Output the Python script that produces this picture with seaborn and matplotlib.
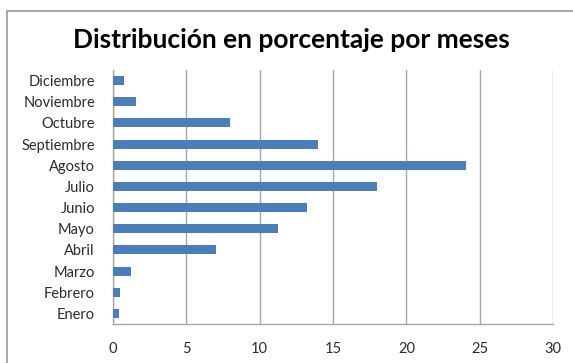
import matplotlib
matplotlib.use("Agg")
import matplotlib.pyplot as plt
from matplotlib.lines import Line2D
from matplotlib.ticker import FixedLocator
import seaborn as sns
import pandas as pd

meses = ["Enero", "Febrero", "Marzo", "Abril", "Mayo", "Junio",
         "Julio", "Agosto", "Septiembre", "Octubre", "Noviembre", "Diciembre"]
porcentaje = [0.4, 0.5, 1.25, 7.0, 11.26, 13.2,
              18.0, 24.07, 14.0, 8.0, 1.6, 0.73]
xticks = [0, 5, 10, 15, 20, 25, 30]
titulo = "Distribución en porcentaje por meses"

sns.set_style("white")
plt.rcParams["font.family"] = ["Lato", "DejaVu Sans"]

df = pd.DataFrame({"mes": meses, "pct": porcentaje})

fig = plt.figure(figsize=(5.73, 3.63), dpi=100)
ax = fig.add_axes([113 / 573, 1 - 324 / 363, 440 / 573, 254 / 363])

orden = meses[::-1]
sns.barplot(data=df, x="pct", y="mes", order=orden, orient="h",
            color="#4a7ebb", saturation=1, width=0.43, linewidth=0,
            ax=ax, zorder=3)

grid_c = "#a6a6a6"
ax.set_xlim(0, 30)
ax.set_ylim(len(meses) - 0.5, -0.5)
ax.set_xticks(xticks)
ax.set_xticklabels([str(t) for t in xticks])
ax.xaxis.grid(True, color=grid_c, linewidth=1.0, zorder=0)
ax.yaxis.grid(False)
ax.set_xlabel("")
ax.set_ylabel("")

for s in ["top", "right"]:
    ax.spines[s].set_visible(False)
for s in ["left", "bottom"]:
    ax.spines[s].set_visible(True)
    ax.spines[s].set_color(grid_c)
    ax.spines[s].set_linewidth(1.0)

# category boundaries get the tick marks, labels stay centered
ax.yaxis.set_minor_locator(FixedLocator([i - 0.5 for i in range(len(meses) + 1)]))
ax.tick_params(axis="y", which="major", length=0, pad=13, labelsize=10.5, labelcolor="#2b2b2b")
ax.tick_params(axis="y", which="minor", length=4, width=1, color=grid_c, direction="out")
ax.tick_params(axis="x", which="major", length=4, width=1, color=grid_c, direction="out",
               pad=9, labelsize=10.5, labelcolor="#2b2b2b")

fig.text(291 / 573, 1 - 40 / 363, titulo, ha="center", va="center",
         fontsize=19, fontweight="bold", color="#000000")

# chart frame
fig.add_artist(Line2D([7 / 573, 7 / 573], [0, 1 - 11 / 363], transform=fig.transFigure,
                      color="#9a9a9a", linewidth=1.2))
fig.add_artist(Line2D([7 / 573, 1], [1 - 11 / 363, 1 - 11 / 363], transform=fig.transFigure,
                      color="#9a9a9a", linewidth=1.2))

fig.savefig("out.png", dpi=100)
